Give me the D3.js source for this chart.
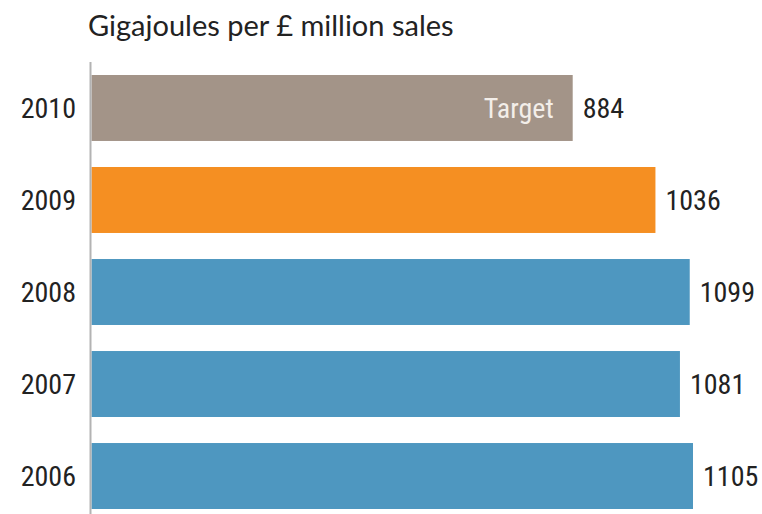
<!DOCTYPE html>
<html>
<head>
<meta charset="utf-8">
<script src="https://cdn.jsdelivr.net/npm/d3@7"></script>
<style>
  html, body { margin: 0; padding: 0; background: #fff; }
  svg { display: block; }
  text { font-family: Roboto, "Open Sans", sans-serif; font-stretch: 75%; }
  text.title { font-family: Lato, "Open Sans", sans-serif; font-stretch: 100%; }
</style>
</head>
<body>
<svg id="chart" width="762" height="514"></svg>
<script>
// Energy intensity by year (top to bottom as drawn)
const years = ["2010", "2009", "2008", "2007", "2006"];
const values = [884, 1036, 1099, 1081, 1105];
const kinds = ["target", "current", "past", "past", "past"];
const colors = { target: "#a39488", current: "#f58f22", past: "#4e97c0" };
const titleText = "Gigajoules per £ million sales";
const targetText = "Target";

const svg = d3.select("#chart");
const W = 762, H = 514;

const x = d3.scaleLinear().domain([0, 1105]).range([91.5, 693]);
const y = d3.scaleBand().domain(years).range([75, 509]).paddingInner(0.283).paddingOuter(0);

// Title
svg.append("text")
  .attr("class", "title")
  .attr("x", 88).attr("y", 36)
  .attr("font-size", 29)
  .attr("fill", "#222")
  .text(titleText);

// Bars
svg.selectAll("rect.bar")
  .data(years)
  .join("rect")
  .attr("class", "bar")
  .attr("x", x(0))
  .attr("y", d => y(d))
  .attr("width", (d, i) => x(values[i]) - x(0))
  .attr("height", y.bandwidth())
  .attr("fill", (d, i) => colors[kinds[i]]);

// Vertical axis line
svg.append("line")
  .attr("x1", 90.5).attr("x2", 90.5)
  .attr("y1", 62).attr("y2", H)
  .attr("stroke", "#b3b3b3").attr("stroke-width", 2);

// Year labels
const yAxis = d3.axisLeft(y).tickSize(0).tickPadding(15);
const gy = svg.append("g").attr("transform", "translate(91,0)").call(yAxis);
gy.select(".domain").remove();
gy.selectAll("text")
  .attr("font-size", 28)
  .attr("fill", "#222")
  .attr("dy", "0.36em")
  .style("font-family", "Roboto, 'Open Sans', sans-serif");

// Value labels
svg.selectAll("text.val")
  .data(years)
  .join("text")
  .attr("class", "val")
  .attr("x", (d, i) => x(values[i]) + 10)
  .attr("y", d => y(d) + y.bandwidth() / 2)
  .attr("dy", "0.36em")
  .attr("font-size", 28)
  .attr("fill", "#222")
  .text((d, i) => values[i]);

// Target label inside the target bar
years.forEach((d, i) => {
  if (kinds[i] !== "target") return;
  svg.append("text")
    .attr("x", x(values[i]) - 19)
    .attr("y", y(d) + y.bandwidth() / 2)
    .attr("dy", "0.36em")
    .attr("text-anchor", "end")
    .attr("font-size", 28)
    .attr("fill", "#f3eee9")
    .text(targetText);
});
</script>
</body>
</html>
